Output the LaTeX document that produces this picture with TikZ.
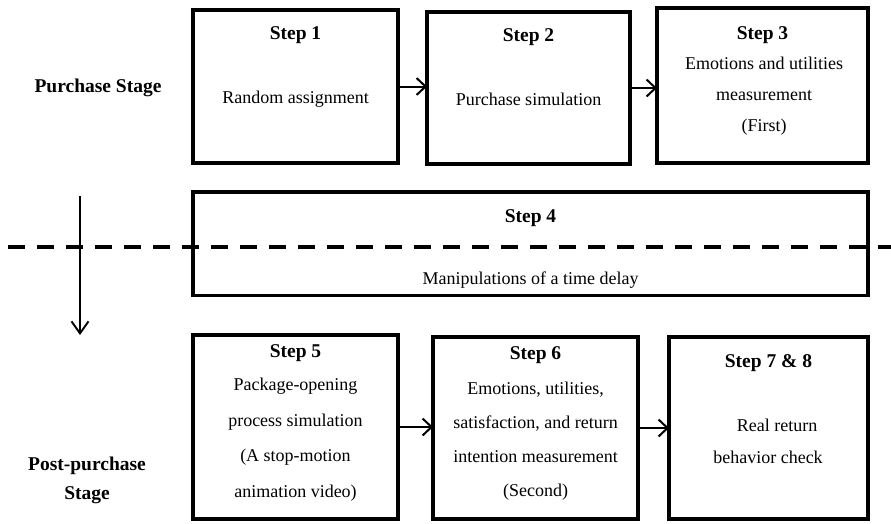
\documentclass[tikz,border=0pt]{standalone}
\usepackage{fontspec}
\setmainfont{Liberation Serif}
\usetikzlibrary{arrows.meta}
\begin{document}
\begin{tikzpicture}[x=1pt,y=-1pt,
  box/.style={draw, line width=3.3pt, inner sep=0pt, outer sep=0pt},
  body/.style={font=\fontsize{18}{31}\selectfont, align=center, inner sep=0pt},
  title/.style={font=\fontsize{19.5}{24}\selectfont\bfseries, align=center, inner sep=0pt},
  arr/.style={line width=2pt, -{Straight Barb[length=9pt,width=17pt,line width=2pt]}},
  darr/.style={line width=1.7pt, -{Straight Barb[length=12pt,width=17pt,line width=1.9pt]}},
  sep/.style={line width=3.5pt, dash pattern=on 17pt off 12pt, dash phase=-8pt}
]
\useasboundingbox (0,0) rectangle (891,523);

% separator and stage arrow
\coordinate (sepL) at (0,247);
\coordinate (sepR) at (891,247);
\draw[sep] (sepL) -- (sepR);
\coordinate (stTop) at (80,196);
\coordinate (stBot) at (80,335);
\draw[darr] (stTop) -- (stBot);

% boxes
\node[box, minimum width=205pt, minimum height=153pt] (b1) at (295.5,86.5) {};
\node[box, minimum width=203pt, minimum height=152pt] (b2) at (528.5,88) {};
\node[box, minimum width=211pt, minimum height=155pt] (b3) at (762.5,85.5) {};
\node[box, minimum width=675pt, minimum height=103.5pt] (b4) at (530.5,243.75) {};
\node[box, minimum width=205pt, minimum height=184pt] (b5) at (295.5,427) {};
\node[box, minimum width=205pt, minimum height=182pt] (b6) at (535.5,428) {};
\node[box, minimum width=199pt, minimum height=182pt] (b7) at (768.5,428) {};

% connectors
\draw[arr] (b1.east) -- (b1.east -| b2.west);
\draw[arr] (b2.east) -- (b2.east -| b3.west);
\draw[arr] (b5.east) -- (b5.east -| b6.west);
\draw[arr] (b6.east) -- (b6.east -| b7.west);

% stage labels
\node[title] (ps) at (98,88) {Purchase Stage};
\node[title, font=\fontsize{19.5}{29}\selectfont\bfseries] (pps) at (87,480) {Post-purchase\\Stage};

% texts
\node[title] (t1) at (295.5,35) {Step 1};
\node[body] (d1) at (295.5,99) {Random assignment};
\node[title] (t2) at (528.5,37) {Step 2};
\node[body] (d2) at (528.5,99) {Purchase simulation};
\node[title] (t3) at (762.5,35) {Step 3};
\node[body] (d3) at (764,96) {Emotions and utilities\\measurement\\(First)};
\node[title] (t4) at (530.5,218) {Step 4};
\node[body] (d4) at (530.5,280) {Manipulations of a time delay};
\node[title] (t5) at (295.5,353) {Step 5};
\node[body, font=\fontsize{18}{35.5}\selectfont] (d5) at (295.5,439.5) {Package-opening\\process simulation\\(A stop-motion\\animation video)};
\node[title] (t6) at (535.5,355) {Step 6};
\node[body, font=\fontsize{18}{34}\selectfont] (d6) at (535.5,441) {Emotions, utilities,\\satisfaction, and return\\intention measurement\\(Second)};
\node[title] (t7) at (768.5,363) {Step 7 \& 8};
\node[body] (d7a) at (777,425) {Real return};
\node[body] (d7b) at (768,457) {behavior check};
\end{tikzpicture}
\end{document}
